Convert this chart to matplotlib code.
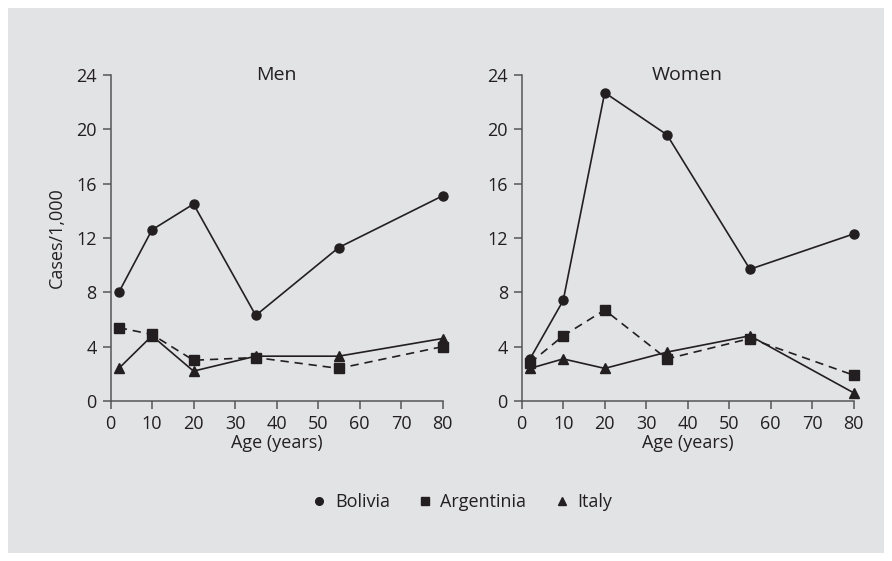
import numpy as np
import matplotlib.pyplot as plt
from matplotlib.patches import Rectangle
from matplotlib.lines import Line2D

plt.rcParams.update({
    'font.family': ['Open Sans', 'DejaVu Sans'],
    'font.size': 13,
    'axes.linewidth': 1.1,
})

ages = [2, 10, 20, 35, 55, 80]

men_bolivia = [8.0, 12.6, 14.5, 6.3, 11.3, 15.1]
men_argentina = [5.4, 4.9, 3.0, 3.2, 2.4, 4.0]
men_italy = [2.4, 4.8, 2.2, 3.3, 3.3, 4.6]

women_bolivia = [3.1, 7.4, 22.7, 19.6, 9.7, 12.3]
women_argentina = [2.8, 4.8, 6.7, 3.1, 4.6, 1.9]
women_italy = [2.4, 3.1, 2.4, 3.6, 4.8, 0.6]

panels = [('Men', men_bolivia, men_argentina, men_italy),
          ('Women', women_bolivia, women_argentina, women_italy)]

bg = '#e2e3e5'
ink = '#231f20'
axcol = '#555555'

fig = plt.figure(figsize=(8.92, 5.61), dpi=100)
fig.patch.set_facecolor('white')
fig.patches.append(Rectangle((8/892, 8/561), 876/892, 545/561, transform=fig.transFigure,
                             facecolor=bg, edgecolor='none', zorder=-5))

lefts = [110.5/892, 521.7/892]
for left, (title, bol, arg, ita) in zip(lefts, panels):
    ax = fig.add_axes([left, 160/561, 332/892, 326/561])
    ax.set_facecolor('none')
    ax.plot(ages, bol, '-', color=ink, lw=1.2, marker='o', ms=6.5, clip_on=False, zorder=3)
    ax.plot(ages, arg, '--', color=ink, lw=1.2, marker='s', ms=6.5, dashes=(5, 3.5), clip_on=False, zorder=3)
    ax.plot(ages, ita, '-', color=ink, lw=1.2, marker='^', ms=7, clip_on=False, zorder=3)
    ax.set_xlim(0, 80)
    ax.set_ylim(0, 24)
    ax.set_xticks(range(0, 81, 10))
    ax.set_yticks(range(0, 25, 4))
    for s in ['top', 'right']:
        ax.spines[s].set_visible(False)
    for s in ['left', 'bottom']:
        ax.spines[s].set_color(axcol)
    ax.tick_params(direction='out', length=6, width=1.1, color=axcol, labelcolor=ink, labelsize=13)
    ax.tick_params(axis='y', pad=4)
    ax.tick_params(axis='x', pad=4)
    ax.set_xlabel('Age (years)', color=ink, fontsize=13, labelpad=1)
    ax.text(0.5, 1.0, title, transform=ax.transAxes, ha='center', va='center', fontsize=14, color=ink)

fig.axes[0].set_ylabel('Cases/1,000', color=ink, fontsize=13, labelpad=7)

handles = [Line2D([], [], ls='none', marker='o', color=ink, ms=5.5),
           Line2D([], [], ls='none', marker='s', color=ink, ms=5.5),
           Line2D([], [], ls='none', marker='^', color=ink, ms=6)]
fig.legend(handles, ['Bolivia', 'Argentinia', 'Italy'], loc='center', bbox_to_anchor=(462/892, 1 - 502/561),
           ncol=3, frameon=False, fontsize=13, handlelength=0.8, handletextpad=0.45, columnspacing=1.55,
           labelcolor=ink)

fig.savefig('out.png', dpi=100)
